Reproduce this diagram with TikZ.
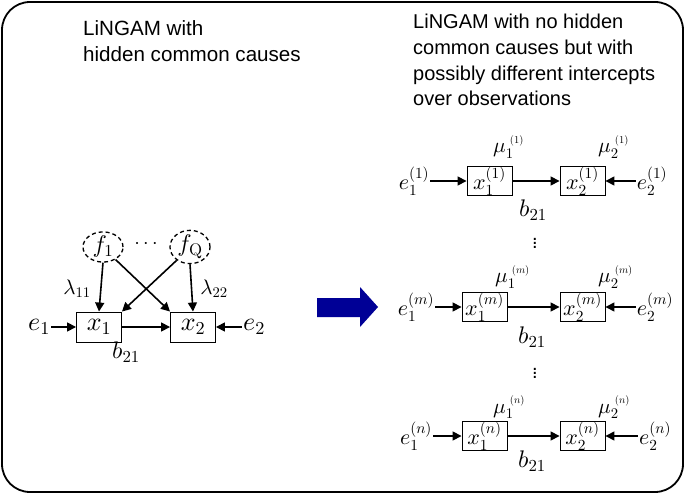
\documentclass[tikz,border=0pt]{standalone}
\usepackage[no-math]{fontspec}
\setmainfont{Liberation Sans}
\DeclareFontFamily{OML}{cmm}{\skewchar\font'177}
\DeclareFontShape{OML}{cmm}{m}{it}{<->cmmi10}{}
\DeclareFontShape{OML}{cmm}{b}{it}{<->cmmib10}{}
\DeclareFontFamily{OMS}{cmsy}{\skewchar\font'60}
\DeclareFontShape{OMS}{cmsy}{m}{n}{<->cmsy10}{}
\DeclareFontShape{OMS}{cmsy}{b}{n}{<->cmbsy10}{}
\DeclareFontFamily{OT1}{cmr}{\hyphenchar\font45}
\DeclareFontShape{OT1}{cmr}{m}{n}{<->cmr10}{}
\DeclareFontShape{OT1}{cmr}{bx}{n}{<->cmbx10}{}
\DeclareFontFamily{OMX}{cmex}{}
\DeclareFontShape{OMX}{cmex}{m}{n}{<->cmex10}{}
\usetikzlibrary{arrows.meta,shapes.geometric}
\newcommand\mymath{\fontsize{26}{30}\selectfont}
\newcommand\rmath{\fontsize{22}{26}\selectfont}
\newcommand\tmath{\fontsize{24}{28}\selectfont}
\definecolor{arrowblue}{RGB}{0,0,150}
\begin{document}
\begin{tikzpicture}[x=1pt,y=-1pt,
  vbox/.style={draw, line width=0.9pt, minimum width=45pt, minimum height=30pt, inner sep=0pt, font=\mymath},
  rbox/.style={draw, line width=0.9pt, minimum width=45pt, minimum height=28pt, inner sep=0pt, font=\rmath},
  lbl/.style={inner sep=1pt, font=\mymath},
  rlbl/.style={inner sep=1pt, font=\rmath},
  coef/.style={inner sep=0pt, font=\tmath},
  lam/.style={inner sep=0pt, font=\fontsize{21}{24}\selectfont},
  mulbl/.style={anchor=base west, inner sep=0pt, font=\fontsize{21}{24}\selectfont},
  dotsl/.style={inner sep=0pt, font=\fontsize{20}{24}\selectfont},
  arr/.style={line width=1.6pt, -{Triangle[length=9pt,width=9pt]}},
  latent/.style={draw, ellipse, line width=1.3pt, dash pattern=on 4pt off 3pt, minimum width=40pt, minimum height=28pt, inner sep=0pt, font=\fontsize{24}{28}\selectfont},
  title/.style={anchor=base west, inner sep=0pt, font=\fontsize{20}{24}\selectfont},
  ltitle/.style={anchor=base west, inner sep=0pt, font=\fontsize{20.6}{24}\selectfont}
]
\useasboundingbox (0,0) rectangle (685,494);
\draw[line width=1.8pt, rounded corners=28pt] (2,2) rectangle (683,492);

% titles
\node[ltitle] (tl1) at (83,36) {LiNGAM with};
\node[ltitle] (tl2) at (83,62) {hidden common causes};
\node[title] (tr1) at (413,29) {LiNGAM with no hidden};
\node[title] (tr2) at (413,55) {common causes but with};
\node[title] (tr3) at (413,81) {possibly different intercepts};
\node[title] (tr4) at (413,106) {over observations};

% left diagram
\node[vbox] (x1) at (99,327) {$x_1$};
\node[vbox] (x2) at (193,327) {$x_2$};
\node[lbl] (e1) at (39,327) {$e_1$};
\node[lbl] (e2) at (254,327) {$e_2$};
\node[latent] (f1) at (103,247) {$f_1$};
\node[latent] (fQ) at (190,247) {$f_{\mathrm{Q}}$};
\node[dotsl] (dots) at (146,244) {$\cdots$};
\node[lam] (l11) at (77,289) {$\lambda_{11}$};
\node[lam] (l22) at (214,289) {$\lambda_{22}$};
\node[coef] (b0) at (126,352) {$b_{21}$};
\draw[arr] (e1) -- (x1);
\draw[arr] (x1) -- (x2);
\draw[arr] (e2) -- (x2);
\draw[arr] (f1.south) -- (x1.north);
\draw[arr] (f1.-45) -- (x2.north west);
\draw[arr] (fQ.-135) -- (x1.north east);
\draw[arr] (fQ.south) -- (x2.north);

% blue arrow
\fill[arrowblue] (317,298) -- (360,298) -- (360,287) -- (378,307) -- (360,327) -- (360,317) -- (317,317) -- cycle;

% right diagrams
\foreach \yy/\s/\xa/\ea/\eb in {181/1/489.5/414/652, 307/m/484.5/416/655, 436/n/484.5/416/655} {
  \node[rbox] (p\s) at (\xa,\yy) {$x_1^{(\s)}$};
  \node[rbox] (q\s) at (582.5,\yy) {$x_2^{(\s)}$};
  \node[rlbl] (u\s) at (\ea,\yy) {$e_1^{(\s)}$};
  \node[rlbl] (v\s) at (\eb,\yy) {$e_2^{(\s)}$};
  \draw[arr] (u\s) -- (p\s);
  \draw[arr] (p\s) -- (q\s);
  \draw[arr] (v\s) -- (q\s);
}
\node[mulbl] (m11) at (493,153) {$\mu_1^{\;\scriptscriptstyle(1)}$};
\node[mulbl] (m21) at (598,153) {$\mu_2^{\;\scriptscriptstyle(1)}$};
\node[mulbl] (m1m) at (495,283) {$\mu_1^{\;\scriptscriptstyle(m)}$};
\node[mulbl] (m2m) at (598,283) {$\mu_2^{\;\scriptscriptstyle(m)}$};
\node[mulbl] (m1n) at (493,413) {$\mu_1^{\;\scriptscriptstyle(n)}$};
\node[mulbl] (m2n) at (598,413) {$\mu_2^{\;\scriptscriptstyle(n)}$};
\node[coef] (b1) at (533,210) {$b_{21}$};
\node[coef] (bm) at (532,337) {$b_{21}$};
\node[coef] (bn) at (532,461) {$b_{21}$};
\node[dotsl] (vd1) at (535,240) {$\vdots$};
\node[dotsl] (vd2) at (535,370) {$\vdots$};
\end{tikzpicture}
\end{document}
